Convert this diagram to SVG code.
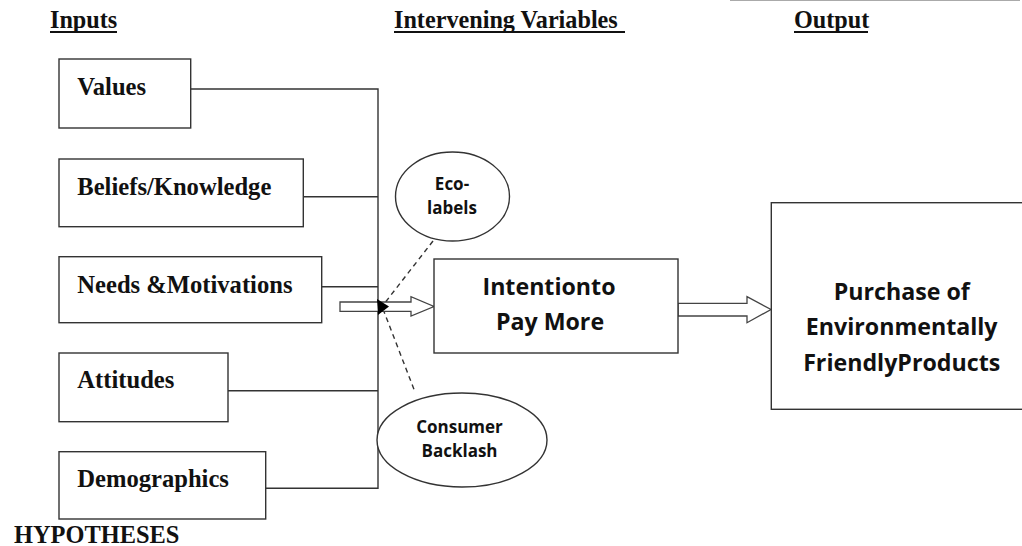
<svg xmlns="http://www.w3.org/2000/svg" width="1022" height="546" viewBox="0 0 1022 546">
<style>
.box{fill:#fff;stroke:#333;stroke-width:1.4}
.line{fill:none;stroke:#333;stroke-width:1.4}
.dash{fill:none;stroke:#333;stroke-width:1.4;stroke-dasharray:5,4}
.blk{fill:#fff;stroke:#444;stroke-width:1.3}
.ser{font-family:"Liberation Serif","Times New Roman",serif;font-weight:bold;fill:#111}
.in{font-size:24.6px}
.hd{font-size:24.2px}
.sans{font-family:"Open Sans","Noto Sans",sans-serif;font-weight:bold;fill:#111;text-anchor:middle}
.sm{font-size:17px}
.lg{font-size:23.2px}
.ul{stroke:#111;stroke-width:2}
</style>
<rect width="1022" height="546" fill="#fff"/>
<line x1="730" y1="0.5" x2="1020" y2="0.5" stroke="#aaa" stroke-width="1.2"/>

<g id="headers">
<text class="ser hd" x="50" y="28">Inputs</text>
<line class="ul" x1="50" y1="32" x2="117" y2="32"/>
<text class="ser hd" x="394" y="28">Intervening Variables</text>
<line class="ul" x1="394" y1="32" x2="625" y2="32"/>
<text class="ser hd" x="794" y="28">Output</text>
<line class="ul" x1="794" y1="32" x2="868" y2="32"/>
</g>

<g id="connectors">
<polyline class="line" points="190.7,89 378,89 378,488.3 265.7,488.3"/>
<line class="line" x1="303.3" y1="196.7" x2="378" y2="196.7"/>
<line class="line" x1="321.7" y1="286.7" x2="378" y2="286.7"/>
<line class="line" x1="228" y1="390.7" x2="378" y2="390.7"/>
<line class="dash" x1="433" y1="241" x2="384" y2="304"/>
<line class="dash" x1="383" y1="309" x2="415" y2="392"/>
<polygon class="blk" points="340,302 411,302 411,296.7 434,306.5 411,316 411,311.3 340,311.3"/>
<polygon points="377,299 389,306.5 378,315" fill="#000"/>
<polygon class="blk" points="678,303.3 747,303.3 747,296.7 771,309.5 747,322.7 747,316 678,316"/>
</g>

<g id="values">
<rect class="box" x="59" y="59" width="131.7" height="69"/>
<text class="ser in" x="77.3" y="95">Values</text>
</g>
<g id="beliefs">
<rect class="box" x="59" y="159" width="244.3" height="67.7"/>
<text class="ser in" x="77.3" y="194.5">Beliefs/Knowledge</text>
</g>
<g id="needs">
<rect class="box" x="59" y="256.7" width="262.7" height="66"/>
<text class="ser in" x="77.3" y="292.7">Needs &amp;Motivations</text>
</g>
<g id="attitudes">
<rect class="box" x="59" y="353" width="169" height="68.7"/>
<text class="ser in" x="77.3" y="388.3">Attitudes</text>
</g>
<g id="demographics">
<rect class="box" x="59" y="451.7" width="206.7" height="67.3"/>
<text class="ser in" x="77.3" y="486.7">Demographics</text>
</g>

<g id="ecolabels">
<ellipse class="box" cx="452.5" cy="196.5" rx="57" ry="44.5"/>
<text class="sans sm" x="452" y="190">Eco-</text>
<text class="sans sm" x="452" y="214">labels</text>
</g>

<g id="backlash">
<ellipse class="box" cx="462" cy="440" rx="85" ry="47"/>
<text class="sans sm" x="459.5" y="432.7">Consumer</text>
<text class="sans sm" x="459.5" y="457">Backlash</text>
</g>

<g id="intention">
<rect class="box" x="434" y="259" width="244" height="94"/>
<text class="sans lg" x="549" y="295">Intentionto</text>
<text class="sans lg" x="550" y="330">Pay More</text>
</g>

<g id="purchase">
<rect class="box" x="771.3" y="202.7" width="262" height="206.6"/>
<text class="sans lg" x="901.7" y="300">Purchase of</text>
<text class="sans lg" x="901.7" y="335">Environmentally</text>
<text class="sans lg" x="901.7" y="371">FriendlyProducts</text>
</g>

<text class="ser" x="14" y="543" font-size="24.4px">HYPOTHESES</text>
</svg>
